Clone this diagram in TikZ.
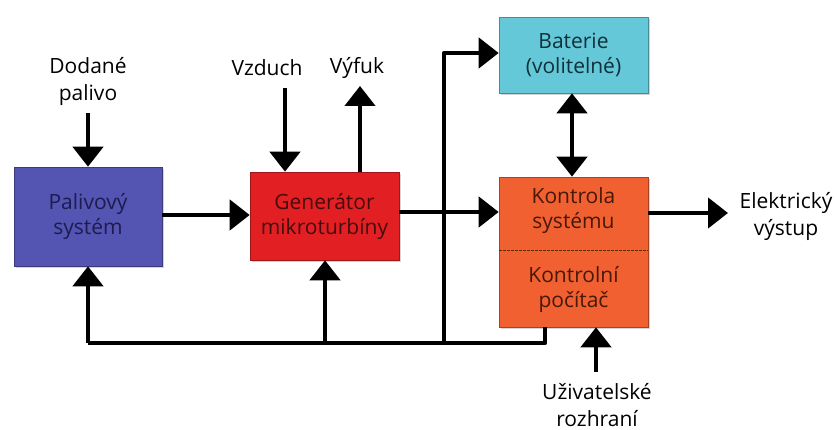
\documentclass[tikz,border=0pt]{standalone}
\usepackage{fontspec}
\setmainfont{Open Sans}
\usetikzlibrary{arrows.meta,shadows}
\begin{document}
\begin{tikzpicture}[x=1pt,y=-1pt,
  box/.style={draw=#1!70!black, line width=0.6pt, fill=#1, inner sep=0pt, align=center,
    font=\fontsize{21}{25}\selectfont, drop shadow={opacity=0.35,shadow xshift=2pt,shadow yshift=-2pt}},
  intext/.style={font=\fontsize{21}{25}\selectfont, align=center},
  lbl/.style={align=center, font=\fontsize{21}{27}\selectfont, inner sep=1pt},
  arr/.style={line width=4.5pt, -{Triangle[width=30pt,length=20pt]}},
  darr/.style={line width=4.5pt, {Triangle[width=30pt,length=20pt]}-{Triangle[width=30pt,length=20pt]}},
  ln/.style={line width=4.5pt}
]
\definecolor{cblue}{RGB}{84,84,178}
\definecolor{cred}{RGB}{226,32,36}
\definecolor{ccyan}{RGB}{100,200,216}
\definecolor{corange}{RGB}{240,96,48}
\definecolor{tblue}{RGB}{28,28,80}
\definecolor{tred}{RGB}{70,12,12}
\definecolor{tcyan}{RGB}{16,48,60}
\definecolor{torange}{RGB}{72,24,8}
\useasboundingbox (0,0) rectangle (837,430);

\node[box=cblue, minimum width=148pt, minimum height=99pt, text=tblue] (pal) at (88,216.5) {Palivový\\systém};
\node[box=cred, minimum width=149pt, minimum height=88pt, text=tred] (gen) at (324.5,216) {Generátor\\mikroturbíny};
\node[box=ccyan, minimum width=149pt, minimum height=76pt, text=tcyan] (bat) at (573.5,55) {Baterie\\(volitelné)};
\node[box=corange, minimum width=149pt, minimum height=150pt] (kon) at (573.5,252) {};
\node[intext, text=torange] (kt) at (573.5,211) {Kontrola\\systému};
\node[intext, text=torange] (kp) at (573.5,289) {Kontrolní\\počítač};
\draw[dashed, dash pattern=on 3pt off 1pt, line width=0.8pt, black!65!orange] (kon.west |- 0,250) coordinate (dl) -- (kon.east |- 0,250) coordinate (dr);

\node[lbl] (dod) at (88,81) {Dodané\\palivo};
\node[lbl] (vzd) at (267,68) {Vzduch};
\node[lbl] (vyf) at (357,68) {Výfuk};
\node[lbl] (ele) at (786,216) {Elektrický\\výstup};
\node[lbl] (uzi) at (597,405) {Uživatelské\\rozhraní};

\coordinate (vzdtop) at (285,88);
\coordinate (vyftop) at (360,86);
\coordinate (b1) at (545,343);
\coordinate (b2) at (88,343);
\coordinate (b3) at (325,343);
\coordinate (b4) at (444,343);
\coordinate (b5) at (444,53);
\coordinate (u1) at (596,372);

\draw[arr] (88,113) -- (pal.north);
\draw[arr] (vzdtop) -- (vzdtop |- gen.north);
\draw[arr] (vyftop |- gen.north) -- (vyftop);
\draw[arr] (pal.east |- 0,215) -- (gen.west |- 0,215);
\draw[arr] (gen.east |- 0,212) -- (kon.west |- 0,212);
\draw[arr] (kon.east |- 0,213) -- (728,213);
\draw[darr] (bat.south -| 572,0) -- (kon.north -| 572,0);
\draw[arr] (u1) -- (u1 |- kon.south);
\draw[ln, line join=round] (b1 |- kon.south) -- (b1) -- (b2);
\draw[arr] (b2) -- (b2 |- pal.south);
\draw[arr] (b3) -- (b3 |- gen.south);
\draw[arr, line join=round] (b4) -- (b5) -- (b5 -| bat.west);
\end{tikzpicture}
\end{document}
